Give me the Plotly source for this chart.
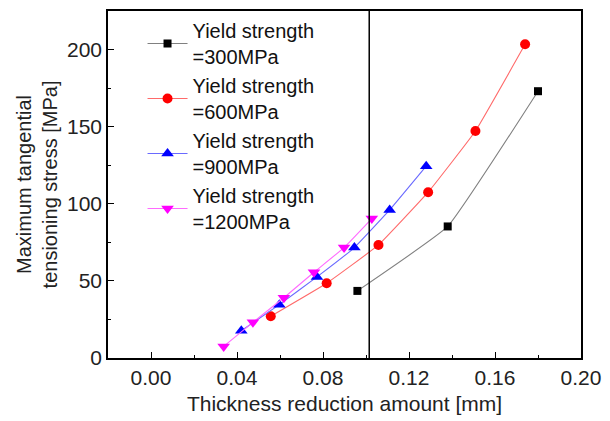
import plotly.graph_objects as go

# Data
x300 = [0.096, 0.138, 0.180]
y300 = [43.5, 85.3, 173.0]
x600 = [0.0557, 0.0817, 0.1058, 0.1289, 0.1509, 0.174]
y600 = [27.1, 48.5, 73.3, 107.5, 147.2, 203.4]
x900 = [0.042, 0.0597, 0.0772, 0.0946, 0.111, 0.128]
y900 = [17.7, 34.6, 52.6, 71.6, 96.0, 124.4]
x1200 = [0.0338, 0.0474, 0.0618, 0.0758, 0.0898, 0.1027]
y1200 = [7.5, 23.1, 39.1, 55.6, 71.6, 90.4]
names = ["Yield strength<br>=300MPa", "Yield strength<br>=600MPa",
         "Yield strength<br>=900MPa", "Yield strength<br>=1200MPa"]
vline_x = 0.1015

FONT = "Arial, Liberation Sans, sans-serif"

series = [
    (x300, y300, names[0], "#000000", "#808080", "square", 8),
    (x600, y600, names[1], "#ff0000", "#ff6a6a", "circle", 10),
    (x900, y900, names[2], "#0000ff", "#6a6aff", "triangle-up", 11),
    (x1200, y1200, names[3], "#ff00ff", "#ff6aff", "triangle-down", 11),
]

fig = go.Figure()
for xs, ys, nm, mc, lc, sym, sz in series:
    fig.add_trace(go.Scatter(
        x=xs, y=ys, name=nm, mode="lines+markers",
        line=dict(color=lc, width=1.1, shape="spline", smoothing=0.3),
        marker=dict(color=mc, symbol=sym, size=sz),
    ))

fig.add_vline(x=vline_x, line=dict(color="#000000", width=1.5))

fig.update_layout(
    width=610, height=421,
    margin=dict(l=108, r=25, t=9, b=61),
    paper_bgcolor="white", plot_bgcolor="white",
    font=dict(family=FONT, size=21, color="#222222"),
    showlegend=True,
    legend=dict(x=0.073, y=1.0, xanchor="left", yanchor="top",
                bgcolor="rgba(0,0,0,0)", font=dict(size=20, color="#111111"),
                tracegroupgap=0, itemwidth=40),
    xaxis=dict(
        range=[-0.02, 0.20], tick0=0, dtick=0.04, tickformat=".2f",
        showline=True, linecolor="#000000", linewidth=1.5, mirror=True,
        ticks="inside", ticklen=6, tickcolor="#000000",
        minor=dict(dtick=0.02, ticks="inside", ticklen=3, tickcolor="#000000"),
        showgrid=False, zeroline=False,
        title=dict(text="Thickness reduction amount [mm]", font=dict(size=21), standoff=8),
        tickfont=dict(size=21),
    ),
    yaxis=dict(
        range=[0, 225], tick0=0, dtick=50,
        showline=True, linecolor="#000000", linewidth=1.5, mirror=True,
        ticks="inside", ticklen=6, tickcolor="#000000",
        minor=dict(dtick=25, ticks="inside", ticklen=3, tickcolor="#000000"),
        showgrid=False, zeroline=False,
        title=dict(text="Maximum tangential<br>tensioning stress [MPa]", font=dict(size=20), standoff=4),
        tickfont=dict(size=21),
    ),
)

fig.write_html("out.html")
